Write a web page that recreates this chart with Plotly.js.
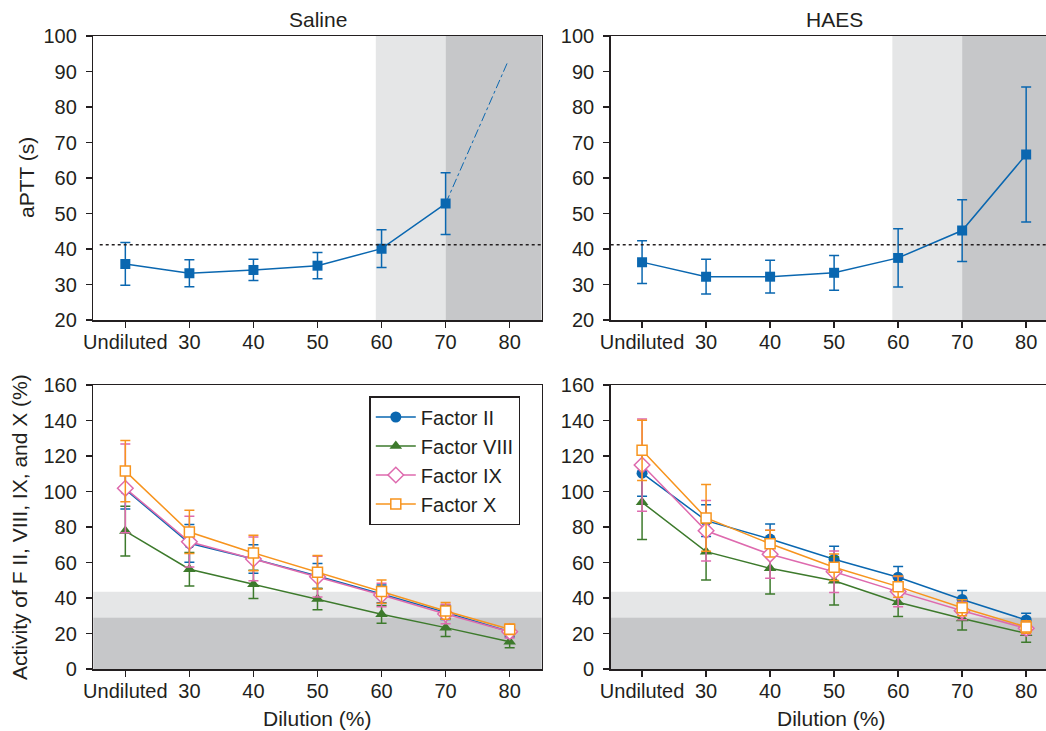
<!DOCTYPE html>
<html>
<head>
<meta charset="utf-8">
<script src="https://cdn.plot.ly/plotly-3.0.1.min.js"></script>
<style>html,body{margin:0;padding:0;background:#fff;}#chart{width:1046px;height:731px;}</style>
</head>
<body>
<div id="chart"></div>
<script>
// ---- categories / tick labels ----
const dilution = [20, 30, 40, 50, 60, 70, 80];
const dilutionLabels = ['Undiluted', '30', '40', '50', '60', '70', '80'];

// ---- aPTT (s) ----
const salineAPTT    = [35.8, 33.2, 34.1, 35.3, 40.1, 52.8];
const salineAPTTsd  = [6.0, 3.8, 3.0, 3.7, 5.3, 8.7];
const salineExtrapX = [70, 79.6];
const salineExtrapY = [52.8, 92.3];
const haesAPTT      = [36.3, 32.2, 32.2, 33.3, 37.5, 45.2, 66.6];
const haesAPTTsd    = [6.0, 4.9, 4.6, 4.9, 8.2, 8.7, 19.0];
const apttReference = 41.2;

// ---- factor activity (%) Saline ----
const salineF2    = [101.2, 70.8, 62.0, 52.4, 42.3, 31.9, 21.0];
const salineF2sd  = [11.0, 10.6, 8.0, 7.0, 5.0, 4.0, 3.0];
const salineF8    = [77.7, 56.2, 47.7, 39.4, 30.8, 23.3, 15.4];
const salineF8sd  = [14.0, 9.4, 8.0, 6.0, 5.0, 5.0, 3.4];
const salineF9    = [101.8, 71.7, 62.0, 52.0, 41.7, 31.0, 21.0];
const salineF9sd  = [25.0, 14.3, 12.3, 11.5, 6.6, 5.5, 3.5];
const salineF10   = [111.5, 77.2, 65.4, 54.5, 43.6, 32.7, 22.4];
const salineF10sd = [17.3, 12.2, 10.0, 9.4, 6.5, 4.7, 3.0];

// ---- factor activity (%) HAES ----
const haesF2    = [110.3, 83.6, 73.2, 61.8, 51.7, 39.2, 27.6];
const haesF2sd  = [13.0, 9.0, 8.5, 7.4, 6.0, 5.0, 3.8];
const haesF8    = [93.9, 66.1, 56.7, 49.7, 37.6, 28.5, 20.1];
const haesF8sd  = [21.0, 16.0, 14.5, 13.6, 8.0, 6.5, 5.0];
const haesF9    = [114.9, 77.9, 64.6, 54.8, 43.6, 32.8, 22.9];
const haesF9sd  = [26.0, 17.0, 13.5, 11.7, 8.5, 5.0, 3.5];
const haesF10   = [123.2, 85.1, 70.6, 57.3, 46.4, 34.5, 23.7];
const haesF10sd = [17.0, 18.8, 7.5, 7.5, 6.0, 4.5, 3.5];

// ---- zones ----
const apttZoneLight = [59.1, 70];
const factorZoneLight = [29, 43.5];
const factorZoneDark = [0, 29];

const BLUE = '#0a67b0', GREEN = '#3d7a2c', PINK = '#de6aae', ORANGE = '#f7941e';
const INK = '#231f20';
const LIGHT = '#e5e6e7', DARK = '#c6c7c9';
const FONT = 'Liberation Sans, Arial, Helvetica, sans-serif';

function err(arr, color) {
  return {type: 'data', array: arr, visible: true, color: color, thickness: 1.5, width: 5};
}

function factorTraces(x, y, data, showlegend) {
  const spec = [
    {name: 'Factor II', color: BLUE, marker: {symbol: 'circle', size: 11, color: BLUE}},
    {name: 'Factor VIII', color: GREEN, marker: {symbol: 'triangle-up', size: 11, color: GREEN}},
    {name: 'Factor IX', color: PINK, marker: {symbol: 'diamond', size: 12, color: '#fff', line: {color: PINK, width: 1.5}}},
    {name: 'Factor X', color: ORANGE, marker: {symbol: 'square', size: 10, color: '#fff', line: {color: ORANGE, width: 1.5}}}
  ];
  return spec.map((s, i) => ({
    type: 'scatter', mode: 'lines+markers', x: dilution, y: data[i][0],
    error_y: err(data[i][1], s.color),
    line: {color: s.color, width: 1.5}, marker: s.marker, name: s.name,
    xaxis: x, yaxis: y, showlegend: showlegend
  }));
}

const traces = [
  {type: 'scatter', mode: 'lines', x: salineExtrapX, y: salineExtrapY, xaxis: 'x', yaxis: 'y',
   line: {color: BLUE, width: 1, dash: 'dashdot'}, showlegend: false},
  {type: 'scatter', mode: 'lines+markers', x: dilution.slice(0, salineAPTT.length), y: salineAPTT,
   error_y: err(salineAPTTsd, BLUE), xaxis: 'x', yaxis: 'y',
   line: {color: BLUE, width: 1.5}, marker: {symbol: 'square', size: 10, color: BLUE}, showlegend: false},
  {type: 'scatter', mode: 'lines+markers', x: dilution, y: haesAPTT,
   error_y: err(haesAPTTsd, BLUE), xaxis: 'x2', yaxis: 'y2',
   line: {color: BLUE, width: 1.5}, marker: {symbol: 'square', size: 10, color: BLUE}, showlegend: false},
  ...factorTraces('x3', 'y3', [[salineF2, salineF2sd], [salineF8, salineF8sd], [salineF9, salineF9sd], [salineF10, salineF10sd]], true),
  ...factorTraces('x4', 'y4', [[haesF2, haesF2sd], [haesF8, haesF8sd], [haesF9, haesF9sd], [haesF10, haesF10sd]], false)
];

const W = 1046, H = 731;
const px = v => v / W, py = v => 1 - v / H;
const TICK = 20, TITLE = 21;

function xax(domain, range, anchor) {
  return {domain: domain, range: range, anchor: anchor, tickvals: dilution, ticktext: dilutionLabels,
    showgrid: false, zeroline: false, showline: true, linecolor: INK, linewidth: 1.5, mirror: true,
    ticks: 'outside', ticklen: 6, tickwidth: 1.5, tickcolor: INK, ticklabelstandoff: -3,
    tickfont: {family: FONT, size: TICK, color: INK}, fixedrange: true};
}
function yax(domain, range, dtick, anchor, mirror) {
  return {domain: domain, range: range, dtick: dtick, tick0: 0, anchor: anchor,
    showgrid: false, zeroline: false, showline: true, linecolor: INK, linewidth: 1.5, mirror: mirror,
    ticks: 'outside', ticklen: 6, tickwidth: 1.5, tickcolor: INK, ticklabelstandoff: 5,
    tickfont: {family: FONT, size: TICK, color: INK}, fixedrange: true};
}

const leftX = [px(93.3), px(541.7)], rightX = [px(610.7), 1];
const topY = [py(320), py(36)], botY = [py(669), py(385)];

const shapes = [];
[['x', 85], ['x2', 83.1]].forEach(([xr, xmax], k) => {
  const yr = k === 0 ? 'y domain' : 'y2 domain';
  shapes.push({type: 'rect', xref: xr, yref: yr, x0: apttZoneLight[0], x1: apttZoneLight[1], y0: 0, y1: 1, fillcolor: LIGHT, line: {width: 0}, layer: 'below'});
  shapes.push({type: 'rect', xref: xr, yref: yr, x0: apttZoneLight[1], x1: xmax, y0: 0, y1: 1, fillcolor: DARK, line: {width: 0}, layer: 'below'});
});
shapes.push({type: 'line', xref: 'x', yref: 'y', x0: 16, x1: 85, y0: apttReference, y1: apttReference, line: {color: INK, width: 1.5, dash: 'dot'}});
shapes.push({type: 'line', xref: 'x2', yref: 'y2', x0: 15.1, x1: 83.1, y0: apttReference, y1: apttReference, line: {color: INK, width: 1.5, dash: 'dot'}});
['x3', 'x4'].forEach((xr, k) => {
  const yr = k === 0 ? 'y3' : 'y4';
  shapes.push({type: 'rect', xref: xr + ' domain', yref: yr, x0: 0, x1: 1, y0: factorZoneLight[0], y1: factorZoneLight[1], fillcolor: LIGHT, line: {width: 0}, layer: 'below'});
  shapes.push({type: 'rect', xref: xr + ' domain', yref: yr, x0: 0, x1: 1, y0: factorZoneDark[0], y1: factorZoneDark[1], fillcolor: DARK, line: {width: 0}, layer: 'below'});
});

const tfont = {family: FONT, size: TITLE, color: INK};
function ann(text, x, y, angle) {
  return {text: text, xref: 'paper', yref: 'paper', x: px(x), y: py(y), xanchor: 'center', yanchor: 'middle',
    textangle: angle || 0, showarrow: false, font: tfont};
}
const annotations = [
  ann('Saline', 317.5, 19),
  ann('HAES', 834, 19),
  ann('aPTT (s)', 27, 178, -90),
  ann('Activity of F II, VIII, IX, and X (%)', 19, 527, -90),
  ann('Dilution (%)', 317.5, 718),
  ann('Dilution (%)', 831, 718)
];

const layout = {
  width: W, height: H, margin: {l: 0, r: 0, t: 0, b: 0},
  paper_bgcolor: '#fff', plot_bgcolor: '#fff',
  font: {family: FONT, color: INK},
  xaxis: xax(leftX, [15, 85], 'y'),
  yaxis: yax(topY, [20, 100], 10, 'x', true),
  xaxis2: xax(rightX, [15.1, 83.1], 'y2'),
  yaxis2: yax(topY, [20, 100], 10, 'x2', false),
  xaxis3: xax(leftX, [15, 85], 'y3'),
  yaxis3: yax(botY, [0, 160], 20, 'x3', true),
  xaxis4: xax(rightX, [15.1, 83.1], 'y4'),
  yaxis4: yax(botY, [0, 160], 20, 'x4', false),
  shapes: shapes,
  annotations: annotations,
  showlegend: true,
  legend: {x: px(369.3), y: py(396), xanchor: 'left', yanchor: 'top', bgcolor: '#fff',
    bordercolor: INK, borderwidth: 1.5, font: {family: FONT, size: 20, color: INK},
    tracegroupgap: 0, itemwidth: 40}
};

Plotly.newPlot('chart', traces, layout, {displayModeBar: false, staticPlot: true});
</script>
</body>
</html>
